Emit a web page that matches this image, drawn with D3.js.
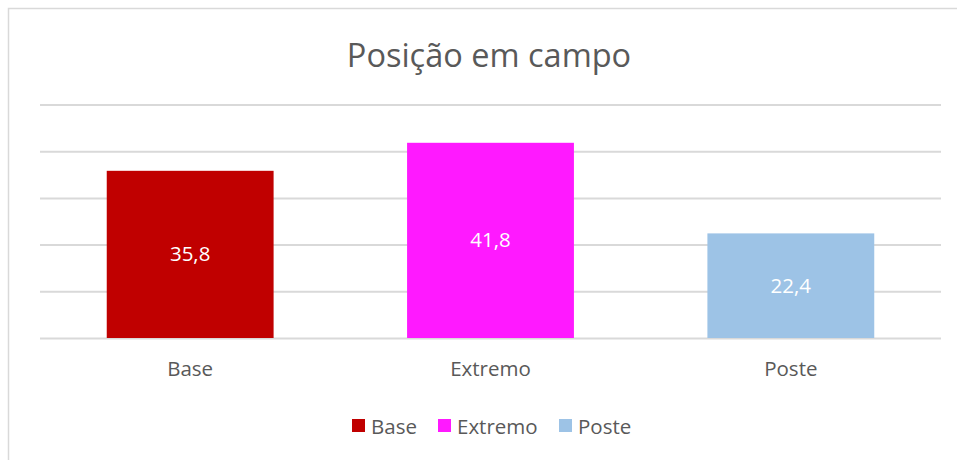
<!DOCTYPE html>
<html>
<head>
<meta charset="utf-8">
<script src="https://cdn.jsdelivr.net/npm/d3@7"></script>
<style>
  body { margin: 0; background: #fff; }
  text { font-family: "Open Sans", "Noto Sans", sans-serif; }
</style>
</head>
<body>
<svg id="chart"></svg>
<script>
var categories = ['Base', 'Extremo', 'Poste'];
var values = [35.8, 41.8, 22.4];
var colors = ['#C00000', '#FF19FF', '#9DC3E6'];
var yTicks = [0, 10, 20, 30, 40, 50];
var title = 'Posição em campo';

var width = 957, height = 460;
var svg = d3.select('#chart').attr('width', width).attr('height', height);

// chart frame, only left and top show in the window
svg.append('rect')
   .attr('x', 8.5).attr('y', 8.5)
   .attr('width', 1000).attr('height', 500)
   .attr('fill', 'none')
   .attr('stroke', '#D9D9D9')
   .attr('stroke-width', 1.5);

var x = d3.scaleBand()
          .domain(categories)
          .range([40, 941])
          .paddingInner(0.8 / 1.8)
          .paddingOuter(0.4 / 1.8);

var y = d3.scaleLinear().domain([0, 50]).range([338, 104.5]);

// gridlines
svg.append('g')
   .attr('transform', 'translate(40,0)')
   .call(d3.axisLeft(y).tickValues(yTicks).tickSize(-901).tickFormat(''))
   .call(function(g){
     g.select('.domain').remove();
     g.selectAll('line').attr('stroke', '#D9D9D9').attr('stroke-width', 2);
   });

svg.selectAll('rect.bar')
   .data(values)
   .enter()
   .append('rect')
     .attr('class', 'bar')
     .attr('x', function(d, i){ return x(categories[i]) })
     .attr('y', function(d){ return y(d) })
     .attr('width', x.bandwidth())
     .attr('height', function(d){ return y(0) - y(d) })
     .attr('fill', function(d, i){ return colors[i] });

svg.selectAll('text.val')
   .data(values)
   .enter()
   .append('text')
     .attr('class', 'val')
     .attr('x', function(d, i){ return x(categories[i]) + x.bandwidth() / 2 })
     .attr('y', function(d){ return (y(d) + y(0)) / 2 + 7 })
     .attr('text-anchor', 'middle')
     .attr('fill', '#fff')
     .style('font-size', '20.5px')
     .text(function(d){ return String(d).replace('.', ',') });

// category axis
svg.append('g')
   .attr('transform', 'translate(0,338)')
   .call(d3.axisBottom(x).tickSize(0).tickPadding(23))
   .call(function(g){
     g.select('.domain').remove();
     g.selectAll('text')
      .attr('fill', '#595959')
      .style('font-size', '20.5px')
      .style('font-family', '"Open Sans", "Noto Sans", sans-serif');
   });

svg.append('text')
   .attr('x', 489).attr('y', 67)
   .attr('text-anchor', 'middle')
   .attr('fill', '#595959')
   .style('font-size', '32.5px')
   .text(title);

// legend
var legendX = [352, 438, 559];
var legend = svg.selectAll('g.leg')
   .data(categories)
   .enter()
   .append('g')
     .attr('class', 'leg')
     .attr('transform', function(d, i){ return 'translate(' + legendX[i] + ',419)' });

legend.append('rect')
      .attr('width', 13).attr('height', 13)
      .attr('fill', function(d, i){ return colors[i] });

legend.append('text')
      .attr('x', 19).attr('y', 15)
      .attr('fill', '#595959')
      .style('font-size', '20.5px')
      .text(function(d){ return d });
</script>
</body>
</html>
